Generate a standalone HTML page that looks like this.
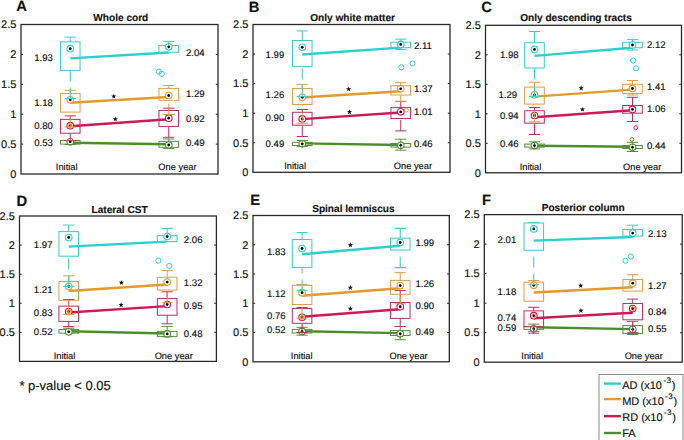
<!DOCTYPE html>
<html><head><meta charset="utf-8"><style>
html,body{margin:0;padding:0;background:#fff;width:684px;height:440px;overflow:hidden}
svg{display:block}
text{font-family:"Liberation Sans", sans-serif;fill:#111;stroke:#111;stroke-width:0.15px}
svg{text-rendering:geometricPrecision}
</style></head><body>
<svg width="684" height="440" viewBox="0 0 684 440">
<text x="16.36" y="11.00" font-size="14.8" font-weight="bold">A</text>
<text x="120.80" y="20.50" font-size="10.1" font-weight="bold" text-anchor="middle">Whole cord</text>
<text x="16.33" y="177.79" font-size="11" text-anchor="end">0</text>
<line x1="21" y1="144.10" x2="23.2" y2="144.10" stroke="#222" stroke-width="1"/>
<line x1="218" y1="144.10" x2="215.8" y2="144.10" stroke="#222" stroke-width="1"/>
<text x="16.33" y="147.89" font-size="11" text-anchor="end">0.5</text>
<line x1="21" y1="114.20" x2="23.2" y2="114.20" stroke="#222" stroke-width="1"/>
<line x1="218" y1="114.20" x2="215.8" y2="114.20" stroke="#222" stroke-width="1"/>
<text x="16.33" y="118.00" font-size="11" text-anchor="end">1</text>
<line x1="21" y1="84.30" x2="23.2" y2="84.30" stroke="#222" stroke-width="1"/>
<line x1="218" y1="84.30" x2="215.8" y2="84.30" stroke="#222" stroke-width="1"/>
<text x="16.33" y="88.10" font-size="11" text-anchor="end">1.5</text>
<line x1="21" y1="54.40" x2="23.2" y2="54.40" stroke="#222" stroke-width="1"/>
<line x1="218" y1="54.40" x2="215.8" y2="54.40" stroke="#222" stroke-width="1"/>
<text x="16.33" y="58.20" font-size="11" text-anchor="end">2</text>
<text x="16.33" y="28.30" font-size="11" text-anchor="end">2.5</text>
<text x="55.86" y="169.5" font-size="9.3">Initial</text>
<text x="158.34" y="169.5" font-size="9.3">One year</text>
<line x1="70.25" y1="58.4" x2="168.75" y2="52.5" stroke="#2ccfd0" stroke-width="2.4"/>
<line x1="70.25" y1="102.8" x2="168.75" y2="97.0" stroke="#e39a2a" stroke-width="2.4"/>
<line x1="70.25" y1="126.2" x2="168.75" y2="119.3" stroke="#cc1a58" stroke-width="2.4"/>
<line x1="70.25" y1="142.7" x2="168.75" y2="144.3" stroke="#4c8f2a" stroke-width="2.4"/>
<rect x="60.45" y="140.5" width="19.60" height="3.60" fill="none" stroke="#55923a" stroke-width="1"/>
<circle cx="70.25" cy="141.8" r="3.3" fill="#fff" stroke="#4c8f2a" stroke-width="1.1"/>
<circle cx="70.25" cy="141.8" r="1.4" fill="#000"/>
<line x1="70.25" y1="144.5" x2="70.25" y2="144.1" stroke="#55923a" stroke-width="1" stroke-dasharray="11,6"/>
<line x1="64.65" y1="144.5" x2="75.85" y2="144.5" stroke="#55923a" stroke-width="1"/>
<rect x="158.95" y="141.4" width="19.60" height="5.90" fill="none" stroke="#55923a" stroke-width="1"/>
<circle cx="168.75" cy="145.0" r="3.3" fill="#fff" stroke="#4c8f2a" stroke-width="1.1"/>
<circle cx="168.75" cy="145.0" r="1.4" fill="#000"/>
<line x1="168.75" y1="139.0" x2="168.75" y2="141.4" stroke="#55923a" stroke-width="1" stroke-dasharray="11,6"/>
<line x1="163.15" y1="139.0" x2="174.35" y2="139.0" stroke="#55923a" stroke-width="1"/>
<line x1="168.75" y1="148.6" x2="168.75" y2="147.3" stroke="#55923a" stroke-width="1" stroke-dasharray="11,6"/>
<line x1="163.15" y1="148.6" x2="174.35" y2="148.6" stroke="#55923a" stroke-width="1"/>
<rect x="60.45" y="119.4" width="19.60" height="13.80" fill="none" stroke="#c02c64" stroke-width="1"/>
<circle cx="70.25" cy="125.7" r="3.3" fill="#fff" stroke="#cc1a58" stroke-width="1.1"/>
<circle cx="70.25" cy="125.7" r="1.4" fill="#000"/>
<line x1="70.25" y1="115.9" x2="70.25" y2="119.4" stroke="#c02c64" stroke-width="1" stroke-dasharray="11,6"/>
<line x1="64.65" y1="115.9" x2="75.85" y2="115.9" stroke="#c02c64" stroke-width="1"/>
<line x1="70.25" y1="140.7" x2="70.25" y2="133.2" stroke="#c02c64" stroke-width="1" stroke-dasharray="11,6"/>
<line x1="64.65" y1="140.7" x2="75.85" y2="140.7" stroke="#c02c64" stroke-width="1"/>
<rect x="158.95" y="110.5" width="19.60" height="15.90" fill="none" stroke="#c02c64" stroke-width="1"/>
<circle cx="168.75" cy="118.2" r="3.3" fill="#fff" stroke="#cc1a58" stroke-width="1.1"/>
<circle cx="168.75" cy="118.2" r="1.4" fill="#000"/>
<line x1="168.75" y1="108.2" x2="168.75" y2="110.5" stroke="#c02c64" stroke-width="1" stroke-dasharray="11,6"/>
<line x1="163.15" y1="108.2" x2="174.35" y2="108.2" stroke="#c02c64" stroke-width="1"/>
<line x1="168.75" y1="137.3" x2="168.75" y2="126.4" stroke="#c02c64" stroke-width="1" stroke-dasharray="11,6"/>
<line x1="163.15" y1="137.3" x2="174.35" y2="137.3" stroke="#c02c64" stroke-width="1"/>
<rect x="60.45" y="93.5" width="19.60" height="18.60" fill="none" stroke="#dc9c48" stroke-width="1"/>
<circle cx="70.25" cy="99.8" r="3.3" fill="#fff" stroke="#e39a2a" stroke-width="1.1"/>
<circle cx="70.25" cy="99.8" r="1.4" fill="#000"/>
<line x1="70.25" y1="90.4" x2="70.25" y2="93.5" stroke="#dc9c48" stroke-width="1" stroke-dasharray="11,6"/>
<line x1="64.65" y1="90.4" x2="75.85" y2="90.4" stroke="#dc9c48" stroke-width="1"/>
<line x1="70.25" y1="127.0" x2="70.25" y2="112.1" stroke="#dc9c48" stroke-width="1" stroke-dasharray="11,6"/>
<line x1="64.65" y1="127.0" x2="75.85" y2="127.0" stroke="#dc9c48" stroke-width="1"/>
<rect x="158.95" y="88.4" width="19.60" height="11.90" fill="none" stroke="#dc9c48" stroke-width="1"/>
<circle cx="168.75" cy="95.5" r="3.3" fill="#fff" stroke="#e39a2a" stroke-width="1.1"/>
<circle cx="168.75" cy="95.5" r="1.4" fill="#000"/>
<line x1="168.75" y1="85.5" x2="168.75" y2="88.4" stroke="#dc9c48" stroke-width="1" stroke-dasharray="11,6"/>
<line x1="163.15" y1="85.5" x2="174.35" y2="85.5" stroke="#dc9c48" stroke-width="1"/>
<line x1="168.75" y1="114.5" x2="168.75" y2="100.3" stroke="#dc9c48" stroke-width="1" stroke-dasharray="11,6"/>
<line x1="163.15" y1="114.5" x2="174.35" y2="114.5" stroke="#dc9c48" stroke-width="1"/>
<rect x="60.45" y="41.9" width="19.60" height="28.50" fill="none" stroke="#3ccaca" stroke-width="1"/>
<circle cx="70.25" cy="48.7" r="3.3" fill="#fff" stroke="#2ccfd0" stroke-width="1.1"/>
<circle cx="70.25" cy="48.7" r="1.4" fill="#000"/>
<line x1="70.25" y1="37.1" x2="70.25" y2="41.9" stroke="#3ccaca" stroke-width="1" stroke-dasharray="11,6"/>
<line x1="64.65" y1="37.1" x2="75.85" y2="37.1" stroke="#3ccaca" stroke-width="1"/>
<line x1="70.25" y1="98.5" x2="70.25" y2="70.4" stroke="#3ccaca" stroke-width="1" stroke-dasharray="11,6"/>
<line x1="64.65" y1="98.5" x2="75.85" y2="98.5" stroke="#3ccaca" stroke-width="1"/>
<rect x="158.95" y="45.5" width="19.60" height="6.80" fill="none" stroke="#3ccaca" stroke-width="1"/>
<circle cx="168.75" cy="46.8" r="3.3" fill="#fff" stroke="#2ccfd0" stroke-width="1.1"/>
<circle cx="168.75" cy="46.8" r="1.4" fill="#000"/>
<line x1="168.75" y1="41.4" x2="168.75" y2="45.5" stroke="#3ccaca" stroke-width="1" stroke-dasharray="11,6"/>
<line x1="163.15" y1="41.4" x2="174.35" y2="41.4" stroke="#3ccaca" stroke-width="1"/>
<circle cx="158.9" cy="71.6" r="2.6" fill="none" stroke="#2ccfd0" stroke-width="1"/>
<circle cx="161.8" cy="73.8" r="2.6" fill="none" stroke="#2ccfd0" stroke-width="1"/>
<circle cx="70.25" cy="125.7" r="1.9" fill="none" stroke="#e39a2a" stroke-width="1"/>
<text x="52.89" y="61.21" font-size="9.6" text-anchor="end">1.93</text>
<text x="52.89" y="105.81" font-size="9.6" text-anchor="end">1.18</text>
<text x="52.89" y="128.81" font-size="9.6" text-anchor="end">0.80</text>
<text x="52.89" y="145.51" font-size="9.6" text-anchor="end">0.53</text>
<text x="186.00" y="55.61" font-size="9.6">2.04</text>
<text x="186.00" y="97.41" font-size="9.6">1.29</text>
<text x="186.00" y="121.51" font-size="9.6">0.92</text>
<text x="186.00" y="145.71" font-size="9.6">0.49</text>
<polygon points="113.80,93.70 114.48,95.47 116.37,95.57 114.89,96.76 115.39,98.58 113.80,97.55 112.21,98.58 112.71,96.76 111.23,95.57 113.12,95.47" fill="#111"/>
<polygon points="115.30,116.40 115.98,118.17 117.87,118.27 116.39,119.46 116.89,121.28 115.30,120.25 113.71,121.28 114.21,119.46 112.73,118.27 114.62,118.17" fill="#111"/>
<rect x="21" y="24.5" width="197.00" height="149.50" fill="none" stroke="#2a2a2a" stroke-width="1.3"/>
<text x="248.76" y="12.10" font-size="14.8" font-weight="bold">B</text>
<text x="352.60" y="20.70" font-size="10.1" font-weight="bold" text-anchor="middle">Only white matter</text>
<text x="248.33" y="176.09" font-size="11" text-anchor="end">0</text>
<line x1="253" y1="142.74" x2="255.2" y2="142.74" stroke="#222" stroke-width="1"/>
<line x1="450" y1="142.74" x2="447.8" y2="142.74" stroke="#222" stroke-width="1"/>
<text x="248.33" y="146.53" font-size="11" text-anchor="end">0.5</text>
<line x1="253" y1="113.18" x2="255.2" y2="113.18" stroke="#222" stroke-width="1"/>
<line x1="450" y1="113.18" x2="447.8" y2="113.18" stroke="#222" stroke-width="1"/>
<text x="248.33" y="116.98" font-size="11" text-anchor="end">1</text>
<line x1="253" y1="83.62" x2="255.2" y2="83.62" stroke="#222" stroke-width="1"/>
<line x1="450" y1="83.62" x2="447.8" y2="83.62" stroke="#222" stroke-width="1"/>
<text x="248.33" y="87.42" font-size="11" text-anchor="end">1.5</text>
<line x1="253" y1="54.06" x2="255.2" y2="54.06" stroke="#222" stroke-width="1"/>
<line x1="450" y1="54.06" x2="447.8" y2="54.06" stroke="#222" stroke-width="1"/>
<text x="248.33" y="57.86" font-size="11" text-anchor="end">2</text>
<text x="248.33" y="28.30" font-size="11" text-anchor="end">2.5</text>
<text x="284.26" y="168.6" font-size="9.3">Initial</text>
<text x="393.74" y="168.6" font-size="9.3">One year</text>
<line x1="302.25" y1="54.5" x2="400.75" y2="47.6" stroke="#2ccfd0" stroke-width="2.4"/>
<line x1="302.25" y1="97.5" x2="400.75" y2="91.3" stroke="#e39a2a" stroke-width="2.4"/>
<line x1="302.25" y1="119.1" x2="400.75" y2="112.5" stroke="#cc1a58" stroke-width="2.4"/>
<line x1="302.25" y1="143.4" x2="400.75" y2="145.0" stroke="#4c8f2a" stroke-width="2.4"/>
<rect x="292.45" y="142.3" width="19.60" height="3.20" fill="none" stroke="#55923a" stroke-width="1"/>
<circle cx="302.25" cy="143.8" r="3.3" fill="#fff" stroke="#4c8f2a" stroke-width="1.1"/>
<circle cx="302.25" cy="143.8" r="1.4" fill="#000"/>
<line x1="302.25" y1="140.5" x2="302.25" y2="142.3" stroke="#55923a" stroke-width="1" stroke-dasharray="11,6"/>
<line x1="296.65" y1="140.5" x2="307.85" y2="140.5" stroke="#55923a" stroke-width="1"/>
<line x1="302.25" y1="146.4" x2="302.25" y2="145.5" stroke="#55923a" stroke-width="1" stroke-dasharray="11,6"/>
<line x1="296.65" y1="146.4" x2="307.85" y2="146.4" stroke="#55923a" stroke-width="1"/>
<rect x="390.95" y="143.5" width="19.60" height="3.60" fill="none" stroke="#55923a" stroke-width="1"/>
<circle cx="400.75" cy="145.3" r="3.3" fill="#fff" stroke="#4c8f2a" stroke-width="1.1"/>
<circle cx="400.75" cy="145.3" r="1.4" fill="#000"/>
<line x1="400.75" y1="139.2" x2="400.75" y2="143.5" stroke="#55923a" stroke-width="1" stroke-dasharray="11,6"/>
<line x1="395.15" y1="139.2" x2="406.35" y2="139.2" stroke="#55923a" stroke-width="1"/>
<line x1="400.75" y1="150.2" x2="400.75" y2="147.1" stroke="#55923a" stroke-width="1" stroke-dasharray="11,6"/>
<line x1="395.15" y1="150.2" x2="406.35" y2="150.2" stroke="#55923a" stroke-width="1"/>
<rect x="292.45" y="112.3" width="19.60" height="12.90" fill="none" stroke="#c02c64" stroke-width="1"/>
<circle cx="302.25" cy="118.9" r="3.3" fill="#fff" stroke="#cc1a58" stroke-width="1.1"/>
<circle cx="302.25" cy="118.9" r="1.4" fill="#000"/>
<line x1="302.25" y1="109.5" x2="302.25" y2="112.3" stroke="#c02c64" stroke-width="1" stroke-dasharray="11,6"/>
<line x1="296.65" y1="109.5" x2="307.85" y2="109.5" stroke="#c02c64" stroke-width="1"/>
<line x1="302.25" y1="136.5" x2="302.25" y2="125.2" stroke="#c02c64" stroke-width="1" stroke-dasharray="11,6"/>
<line x1="296.65" y1="136.5" x2="307.85" y2="136.5" stroke="#c02c64" stroke-width="1"/>
<rect x="390.95" y="107.4" width="19.60" height="11.10" fill="none" stroke="#c02c64" stroke-width="1"/>
<circle cx="400.75" cy="111.8" r="3.3" fill="#fff" stroke="#cc1a58" stroke-width="1.1"/>
<circle cx="400.75" cy="111.8" r="1.4" fill="#000"/>
<line x1="400.75" y1="101.4" x2="400.75" y2="107.4" stroke="#c02c64" stroke-width="1" stroke-dasharray="11,6"/>
<line x1="395.15" y1="101.4" x2="406.35" y2="101.4" stroke="#c02c64" stroke-width="1"/>
<line x1="400.75" y1="130.9" x2="400.75" y2="118.5" stroke="#c02c64" stroke-width="1" stroke-dasharray="11,6"/>
<line x1="395.15" y1="130.9" x2="406.35" y2="130.9" stroke="#c02c64" stroke-width="1"/>
<rect x="292.45" y="88.6" width="19.60" height="15.90" fill="none" stroke="#dc9c48" stroke-width="1"/>
<circle cx="302.25" cy="97.3" r="3.3" fill="#fff" stroke="#e39a2a" stroke-width="1.1"/>
<circle cx="302.25" cy="97.3" r="1.4" fill="#000"/>
<line x1="302.25" y1="84.4" x2="302.25" y2="88.6" stroke="#dc9c48" stroke-width="1" stroke-dasharray="11,6"/>
<line x1="296.65" y1="84.4" x2="307.85" y2="84.4" stroke="#dc9c48" stroke-width="1"/>
<line x1="302.25" y1="123.2" x2="302.25" y2="104.5" stroke="#dc9c48" stroke-width="1" stroke-dasharray="11,6"/>
<line x1="296.65" y1="123.2" x2="307.85" y2="123.2" stroke="#dc9c48" stroke-width="1"/>
<rect x="390.95" y="85.7" width="19.60" height="9.30" fill="none" stroke="#dc9c48" stroke-width="1"/>
<circle cx="400.75" cy="88.8" r="3.3" fill="#fff" stroke="#e39a2a" stroke-width="1.1"/>
<circle cx="400.75" cy="88.8" r="1.4" fill="#000"/>
<line x1="400.75" y1="82.7" x2="400.75" y2="85.7" stroke="#dc9c48" stroke-width="1" stroke-dasharray="11,6"/>
<line x1="395.15" y1="82.7" x2="406.35" y2="82.7" stroke="#dc9c48" stroke-width="1"/>
<line x1="400.75" y1="101.4" x2="400.75" y2="95.0" stroke="#dc9c48" stroke-width="1" stroke-dasharray="11,6"/>
<line x1="395.15" y1="101.4" x2="406.35" y2="101.4" stroke="#dc9c48" stroke-width="1"/>
<rect x="292.45" y="40.5" width="19.60" height="25.90" fill="none" stroke="#3ccaca" stroke-width="1"/>
<circle cx="302.25" cy="47.3" r="3.3" fill="#fff" stroke="#2ccfd0" stroke-width="1.1"/>
<circle cx="302.25" cy="47.3" r="1.4" fill="#000"/>
<line x1="302.25" y1="30.9" x2="302.25" y2="40.5" stroke="#3ccaca" stroke-width="1" stroke-dasharray="11,6"/>
<line x1="296.65" y1="30.9" x2="307.85" y2="30.9" stroke="#3ccaca" stroke-width="1"/>
<line x1="302.25" y1="96.4" x2="302.25" y2="66.4" stroke="#3ccaca" stroke-width="1" stroke-dasharray="11,6"/>
<line x1="296.65" y1="96.4" x2="307.85" y2="96.4" stroke="#3ccaca" stroke-width="1"/>
<rect x="390.95" y="42.3" width="19.60" height="5.40" fill="none" stroke="#3ccaca" stroke-width="1"/>
<circle cx="400.75" cy="44.4" r="3.3" fill="#fff" stroke="#2ccfd0" stroke-width="1.1"/>
<circle cx="400.75" cy="44.4" r="1.4" fill="#000"/>
<line x1="400.75" y1="39.1" x2="400.75" y2="42.3" stroke="#3ccaca" stroke-width="1" stroke-dasharray="11,6"/>
<line x1="395.15" y1="39.1" x2="406.35" y2="39.1" stroke="#3ccaca" stroke-width="1"/>
<line x1="400.75" y1="49.5" x2="400.75" y2="47.7" stroke="#3ccaca" stroke-width="1" stroke-dasharray="11,6"/>
<line x1="395.15" y1="49.5" x2="406.35" y2="49.5" stroke="#3ccaca" stroke-width="1"/>
<circle cx="401.4" cy="67.3" r="2.6" fill="none" stroke="#2ccfd0" stroke-width="1"/>
<circle cx="412.5" cy="63.5" r="2.6" fill="none" stroke="#2ccfd0" stroke-width="1"/>
<circle cx="406.4" cy="110" r="1.9" fill="none" stroke="#e39a2a" stroke-width="1"/>
<text x="284.29" y="58.16" font-size="9.6" text-anchor="end">1.99</text>
<text x="284.29" y="97.81" font-size="9.6" text-anchor="end">1.26</text>
<text x="284.29" y="121.01" font-size="9.6" text-anchor="end">0.90</text>
<text x="284.29" y="146.61" font-size="9.6" text-anchor="end">0.49</text>
<text x="414.00" y="49.31" font-size="9.6">2.11</text>
<text x="414.00" y="91.51" font-size="9.6">1.37</text>
<text x="414.00" y="114.61" font-size="9.6">1.01</text>
<text x="414.00" y="147.21" font-size="9.6">0.46</text>
<polygon points="348.60,86.40 349.28,88.17 351.17,88.27 349.69,89.46 350.19,91.28 348.60,90.25 347.01,91.28 347.51,89.46 346.03,88.27 347.92,88.17" fill="#111"/>
<polygon points="349.50,109.30 350.18,111.07 352.07,111.17 350.59,112.36 351.09,114.18 349.50,113.15 347.91,114.18 348.41,112.36 346.93,111.17 348.82,111.07" fill="#111"/>
<rect x="253" y="24.5" width="197.00" height="147.80" fill="none" stroke="#2a2a2a" stroke-width="1.3"/>
<text x="481.16" y="11.90" font-size="14.8" font-weight="bold">C</text>
<text x="576.00" y="21.00" font-size="10.1" font-weight="bold" text-anchor="middle">Only descending tracts</text>
<text x="480.83" y="176.59" font-size="11" text-anchor="end">0</text>
<line x1="485.5" y1="143.30" x2="487.7" y2="143.30" stroke="#222" stroke-width="1"/>
<line x1="681.5" y1="143.30" x2="679.3" y2="143.30" stroke="#222" stroke-width="1"/>
<text x="480.83" y="147.09" font-size="11" text-anchor="end">0.5</text>
<line x1="485.5" y1="113.80" x2="487.7" y2="113.80" stroke="#222" stroke-width="1"/>
<line x1="681.5" y1="113.80" x2="679.3" y2="113.80" stroke="#222" stroke-width="1"/>
<text x="480.83" y="117.60" font-size="11" text-anchor="end">1</text>
<line x1="485.5" y1="84.30" x2="487.7" y2="84.30" stroke="#222" stroke-width="1"/>
<line x1="681.5" y1="84.30" x2="679.3" y2="84.30" stroke="#222" stroke-width="1"/>
<text x="480.83" y="88.10" font-size="11" text-anchor="end">1.5</text>
<line x1="485.5" y1="54.80" x2="487.7" y2="54.80" stroke="#222" stroke-width="1"/>
<line x1="681.5" y1="54.80" x2="679.3" y2="54.80" stroke="#222" stroke-width="1"/>
<text x="480.83" y="58.60" font-size="11" text-anchor="end">2</text>
<text x="480.83" y="29.10" font-size="11" text-anchor="end">2.5</text>
<text x="519.66" y="169.5" font-size="9.3">Initial</text>
<text x="623.03" y="169.5" font-size="9.3">One year</text>
<line x1="534.50" y1="55.9" x2="632.50" y2="47.7" stroke="#2ccfd0" stroke-width="2.4"/>
<line x1="534.50" y1="96.6" x2="632.50" y2="89.6" stroke="#e39a2a" stroke-width="2.4"/>
<line x1="534.50" y1="117.3" x2="632.50" y2="110.3" stroke="#cc1a58" stroke-width="2.4"/>
<line x1="534.50" y1="145.7" x2="632.50" y2="146.8" stroke="#4c8f2a" stroke-width="2.4"/>
<rect x="524.70" y="144.1" width="19.60" height="3.00" fill="none" stroke="#55923a" stroke-width="1"/>
<circle cx="534.50" cy="145.6" r="3.3" fill="#fff" stroke="#4c8f2a" stroke-width="1.1"/>
<circle cx="534.50" cy="145.6" r="1.4" fill="#000"/>
<line x1="534.50" y1="141.8" x2="534.50" y2="144.1" stroke="#55923a" stroke-width="1" stroke-dasharray="11,6"/>
<line x1="528.90" y1="141.8" x2="540.10" y2="141.8" stroke="#55923a" stroke-width="1"/>
<line x1="534.50" y1="148.9" x2="534.50" y2="147.1" stroke="#55923a" stroke-width="1" stroke-dasharray="11,6"/>
<line x1="528.90" y1="148.9" x2="540.10" y2="148.9" stroke="#55923a" stroke-width="1"/>
<rect x="622.70" y="145.5" width="19.60" height="3.00" fill="none" stroke="#55923a" stroke-width="1"/>
<circle cx="632.50" cy="147.3" r="3.3" fill="#fff" stroke="#4c8f2a" stroke-width="1.1"/>
<circle cx="632.50" cy="147.3" r="1.4" fill="#000"/>
<line x1="632.50" y1="142.3" x2="632.50" y2="145.5" stroke="#55923a" stroke-width="1" stroke-dasharray="11,6"/>
<line x1="626.90" y1="142.3" x2="638.10" y2="142.3" stroke="#55923a" stroke-width="1"/>
<line x1="632.50" y1="151.5" x2="632.50" y2="148.5" stroke="#55923a" stroke-width="1" stroke-dasharray="11,6"/>
<line x1="626.90" y1="151.5" x2="638.10" y2="151.5" stroke="#55923a" stroke-width="1"/>
<rect x="524.70" y="110.7" width="19.60" height="12.50" fill="none" stroke="#c02c64" stroke-width="1"/>
<circle cx="534.50" cy="115.5" r="3.3" fill="#fff" stroke="#cc1a58" stroke-width="1.1"/>
<circle cx="534.50" cy="115.5" r="1.4" fill="#000"/>
<line x1="534.50" y1="107.5" x2="534.50" y2="110.7" stroke="#c02c64" stroke-width="1" stroke-dasharray="11,6"/>
<line x1="528.90" y1="107.5" x2="540.10" y2="107.5" stroke="#c02c64" stroke-width="1"/>
<line x1="534.50" y1="134.5" x2="534.50" y2="123.2" stroke="#c02c64" stroke-width="1" stroke-dasharray="11,6"/>
<line x1="528.90" y1="134.5" x2="540.10" y2="134.5" stroke="#c02c64" stroke-width="1"/>
<rect x="622.70" y="105.5" width="19.60" height="7.70" fill="none" stroke="#c02c64" stroke-width="1"/>
<circle cx="632.50" cy="109.4" r="3.3" fill="#fff" stroke="#cc1a58" stroke-width="1.1"/>
<circle cx="632.50" cy="109.4" r="1.4" fill="#000"/>
<line x1="632.50" y1="97.3" x2="632.50" y2="105.5" stroke="#c02c64" stroke-width="1" stroke-dasharray="11,6"/>
<line x1="626.90" y1="97.3" x2="638.10" y2="97.3" stroke="#c02c64" stroke-width="1"/>
<line x1="632.50" y1="121.5" x2="632.50" y2="113.2" stroke="#c02c64" stroke-width="1" stroke-dasharray="11,6"/>
<line x1="626.90" y1="121.5" x2="638.10" y2="121.5" stroke="#c02c64" stroke-width="1"/>
<rect x="524.70" y="87.1" width="19.60" height="17.00" fill="none" stroke="#dc9c48" stroke-width="1"/>
<circle cx="534.50" cy="94.8" r="3.3" fill="#fff" stroke="#e39a2a" stroke-width="1.1"/>
<circle cx="534.50" cy="94.8" r="1.4" fill="#000"/>
<line x1="534.50" y1="82.3" x2="534.50" y2="87.1" stroke="#dc9c48" stroke-width="1" stroke-dasharray="11,6"/>
<line x1="528.90" y1="82.3" x2="540.10" y2="82.3" stroke="#dc9c48" stroke-width="1"/>
<line x1="534.50" y1="121.8" x2="534.50" y2="104.1" stroke="#dc9c48" stroke-width="1" stroke-dasharray="11,6"/>
<line x1="528.90" y1="121.8" x2="540.10" y2="121.8" stroke="#dc9c48" stroke-width="1"/>
<rect x="622.70" y="84.3" width="19.60" height="9.10" fill="none" stroke="#dc9c48" stroke-width="1"/>
<circle cx="632.50" cy="88.5" r="3.3" fill="#fff" stroke="#e39a2a" stroke-width="1.1"/>
<circle cx="632.50" cy="88.5" r="1.4" fill="#000"/>
<line x1="632.50" y1="80.5" x2="632.50" y2="84.3" stroke="#dc9c48" stroke-width="1" stroke-dasharray="11,6"/>
<line x1="626.90" y1="80.5" x2="638.10" y2="80.5" stroke="#dc9c48" stroke-width="1"/>
<line x1="632.50" y1="95.0" x2="632.50" y2="93.4" stroke="#dc9c48" stroke-width="1" stroke-dasharray="11,6"/>
<line x1="626.90" y1="95.0" x2="638.10" y2="95.0" stroke="#dc9c48" stroke-width="1"/>
<rect x="524.70" y="42.7" width="19.60" height="25.30" fill="none" stroke="#3ccaca" stroke-width="1"/>
<circle cx="534.50" cy="49.4" r="3.3" fill="#fff" stroke="#2ccfd0" stroke-width="1.1"/>
<circle cx="534.50" cy="49.4" r="1.4" fill="#000"/>
<line x1="534.50" y1="31.5" x2="534.50" y2="42.7" stroke="#3ccaca" stroke-width="1" stroke-dasharray="11,6"/>
<line x1="528.90" y1="31.5" x2="540.10" y2="31.5" stroke="#3ccaca" stroke-width="1"/>
<line x1="534.50" y1="96.4" x2="534.50" y2="68.0" stroke="#3ccaca" stroke-width="1" stroke-dasharray="11,6"/>
<line x1="528.90" y1="96.4" x2="540.10" y2="96.4" stroke="#3ccaca" stroke-width="1"/>
<rect x="622.70" y="42.3" width="19.60" height="5.40" fill="none" stroke="#3ccaca" stroke-width="1"/>
<circle cx="632.50" cy="45.0" r="3.3" fill="#fff" stroke="#2ccfd0" stroke-width="1.1"/>
<circle cx="632.50" cy="45.0" r="1.4" fill="#000"/>
<line x1="632.50" y1="39.4" x2="632.50" y2="42.3" stroke="#3ccaca" stroke-width="1" stroke-dasharray="11,6"/>
<line x1="626.90" y1="39.4" x2="638.10" y2="39.4" stroke="#3ccaca" stroke-width="1"/>
<line x1="632.50" y1="50.0" x2="632.50" y2="47.7" stroke="#3ccaca" stroke-width="1" stroke-dasharray="11,6"/>
<line x1="626.90" y1="50.0" x2="638.10" y2="50.0" stroke="#3ccaca" stroke-width="1"/>
<circle cx="633.1" cy="60.5" r="2.6" fill="none" stroke="#2ccfd0" stroke-width="1"/>
<circle cx="636.0" cy="68.2" r="2.6" fill="none" stroke="#2ccfd0" stroke-width="1"/>
<circle cx="635.8" cy="127.8" r="1.9" fill="none" stroke="#cc1a58" stroke-width="1"/>
<circle cx="632" cy="139.5" r="1.9" fill="none" stroke="#4c8f2a" stroke-width="1"/>
<text x="518.59" y="58.31" font-size="9.6" text-anchor="end">1.98</text>
<text x="517.09" y="97.91" font-size="9.6" text-anchor="end">1.29</text>
<text x="518.59" y="119.41" font-size="9.6" text-anchor="end">0.94</text>
<text x="518.59" y="147.31" font-size="9.6" text-anchor="end">0.46</text>
<text x="647.00" y="47.81" font-size="9.6">2.12</text>
<text x="647.00" y="90.31" font-size="9.6">1.41</text>
<text x="647.00" y="111.61" font-size="9.6">1.06</text>
<text x="647.00" y="148.81" font-size="9.6">0.44</text>
<polygon points="581.10,85.50 581.78,87.27 583.67,87.37 582.19,88.56 582.69,90.38 581.10,89.35 579.51,90.38 580.01,88.56 578.53,87.37 580.42,87.27" fill="#111"/>
<polygon points="582.50,106.70 583.18,108.47 585.07,108.57 583.59,109.76 584.09,111.58 582.50,110.55 580.91,111.58 581.41,109.76 579.93,108.57 581.82,108.47" fill="#111"/>
<rect x="485.5" y="25.3" width="196.00" height="147.50" fill="none" stroke="#2a2a2a" stroke-width="1.3"/>
<text x="16.46" y="206.00" font-size="14.8" font-weight="bold">D</text>
<text x="119.60" y="212.90" font-size="10.1" font-weight="bold" text-anchor="middle">Lateral CST</text>
<line x1="19.5" y1="332.32" x2="21.7" y2="332.32" stroke="#222" stroke-width="1"/>
<line x1="216.4" y1="332.32" x2="214.20000000000002" y2="332.32" stroke="#222" stroke-width="1"/>
<text x="14.83" y="336.12" font-size="11" text-anchor="end">0.5</text>
<line x1="19.5" y1="303.24" x2="21.7" y2="303.24" stroke="#222" stroke-width="1"/>
<line x1="216.4" y1="303.24" x2="214.20000000000002" y2="303.24" stroke="#222" stroke-width="1"/>
<text x="14.83" y="307.04" font-size="11" text-anchor="end">1</text>
<line x1="19.5" y1="274.16" x2="21.7" y2="274.16" stroke="#222" stroke-width="1"/>
<line x1="216.4" y1="274.16" x2="214.20000000000002" y2="274.16" stroke="#222" stroke-width="1"/>
<text x="14.83" y="277.95" font-size="11" text-anchor="end">1.5</text>
<line x1="19.5" y1="245.08" x2="21.7" y2="245.08" stroke="#222" stroke-width="1"/>
<line x1="216.4" y1="245.08" x2="214.20000000000002" y2="245.08" stroke="#222" stroke-width="1"/>
<text x="14.83" y="248.87" font-size="11" text-anchor="end">2</text>
<text x="14.83" y="219.79" font-size="11" text-anchor="end">2.5</text>
<text x="53.66" y="358.9" font-size="9.3">Initial</text>
<text x="154.63" y="358.9" font-size="9.3">One year</text>
<line x1="68.72" y1="246.6" x2="167.18" y2="241.6" stroke="#2ccfd0" stroke-width="2.4"/>
<line x1="68.72" y1="291.0" x2="167.18" y2="284.5" stroke="#e39a2a" stroke-width="2.4"/>
<line x1="68.72" y1="312.5" x2="167.18" y2="306.1" stroke="#cc1a58" stroke-width="2.4"/>
<line x1="68.72" y1="331.2" x2="167.18" y2="333.5" stroke="#4c8f2a" stroke-width="2.4"/>
<rect x="58.92" y="329.5" width="19.60" height="3.70" fill="none" stroke="#55923a" stroke-width="1"/>
<circle cx="68.72" cy="331.8" r="3.3" fill="#fff" stroke="#4c8f2a" stroke-width="1.1"/>
<circle cx="68.72" cy="331.8" r="1.4" fill="#000"/>
<line x1="68.72" y1="328.2" x2="68.72" y2="329.5" stroke="#55923a" stroke-width="1" stroke-dasharray="11,6"/>
<line x1="63.12" y1="328.2" x2="74.32" y2="328.2" stroke="#55923a" stroke-width="1"/>
<rect x="157.38" y="331.4" width="19.60" height="5.00" fill="none" stroke="#55923a" stroke-width="1"/>
<circle cx="167.18" cy="333.9" r="3.3" fill="#fff" stroke="#4c8f2a" stroke-width="1.1"/>
<circle cx="167.18" cy="333.9" r="1.4" fill="#000"/>
<line x1="167.18" y1="326.4" x2="167.18" y2="331.4" stroke="#55923a" stroke-width="1" stroke-dasharray="11,6"/>
<line x1="161.58" y1="326.4" x2="172.78" y2="326.4" stroke="#55923a" stroke-width="1"/>
<line x1="167.18" y1="336.8" x2="167.18" y2="336.4" stroke="#55923a" stroke-width="1" stroke-dasharray="11,6"/>
<line x1="161.58" y1="336.8" x2="172.78" y2="336.8" stroke="#55923a" stroke-width="1"/>
<rect x="58.92" y="306.1" width="19.60" height="15.30" fill="none" stroke="#c02c64" stroke-width="1"/>
<circle cx="68.72" cy="311.5" r="3.3" fill="#fff" stroke="#cc1a58" stroke-width="1.1"/>
<circle cx="68.72" cy="311.5" r="1.4" fill="#000"/>
<line x1="68.72" y1="299.5" x2="68.72" y2="306.1" stroke="#c02c64" stroke-width="1" stroke-dasharray="11,6"/>
<line x1="63.12" y1="299.5" x2="74.32" y2="299.5" stroke="#c02c64" stroke-width="1"/>
<line x1="68.72" y1="326.6" x2="68.72" y2="321.4" stroke="#c02c64" stroke-width="1" stroke-dasharray="11,6"/>
<line x1="63.12" y1="326.6" x2="74.32" y2="326.6" stroke="#c02c64" stroke-width="1"/>
<rect x="157.38" y="298.6" width="19.60" height="16.60" fill="none" stroke="#c02c64" stroke-width="1"/>
<circle cx="167.18" cy="304.5" r="3.3" fill="#fff" stroke="#cc1a58" stroke-width="1.1"/>
<circle cx="167.18" cy="304.5" r="1.4" fill="#000"/>
<line x1="167.18" y1="291.8" x2="167.18" y2="298.6" stroke="#c02c64" stroke-width="1" stroke-dasharray="11,6"/>
<line x1="161.58" y1="291.8" x2="172.78" y2="291.8" stroke="#c02c64" stroke-width="1"/>
<line x1="167.18" y1="323.8" x2="167.18" y2="315.2" stroke="#c02c64" stroke-width="1" stroke-dasharray="11,6"/>
<line x1="161.58" y1="323.8" x2="172.78" y2="323.8" stroke="#c02c64" stroke-width="1"/>
<rect x="58.92" y="281.5" width="19.60" height="18.80" fill="none" stroke="#dc9c48" stroke-width="1"/>
<circle cx="68.72" cy="286.4" r="3.3" fill="#fff" stroke="#e39a2a" stroke-width="1.1"/>
<circle cx="68.72" cy="286.4" r="1.4" fill="#000"/>
<line x1="68.72" y1="275.8" x2="68.72" y2="281.5" stroke="#dc9c48" stroke-width="1" stroke-dasharray="11,6"/>
<line x1="63.12" y1="275.8" x2="74.32" y2="275.8" stroke="#dc9c48" stroke-width="1"/>
<line x1="68.72" y1="314.5" x2="68.72" y2="300.3" stroke="#dc9c48" stroke-width="1" stroke-dasharray="11,6"/>
<line x1="63.12" y1="314.5" x2="74.32" y2="314.5" stroke="#dc9c48" stroke-width="1"/>
<rect x="157.38" y="277.3" width="19.60" height="12.70" fill="none" stroke="#dc9c48" stroke-width="1"/>
<circle cx="167.18" cy="282.1" r="3.3" fill="#fff" stroke="#e39a2a" stroke-width="1.1"/>
<circle cx="167.18" cy="282.1" r="1.4" fill="#000"/>
<line x1="167.18" y1="270.6" x2="167.18" y2="277.3" stroke="#dc9c48" stroke-width="1" stroke-dasharray="11,6"/>
<line x1="161.58" y1="270.6" x2="172.78" y2="270.6" stroke="#dc9c48" stroke-width="1"/>
<line x1="167.18" y1="302.7" x2="167.18" y2="290.0" stroke="#dc9c48" stroke-width="1" stroke-dasharray="11,6"/>
<line x1="161.58" y1="302.7" x2="172.78" y2="302.7" stroke="#dc9c48" stroke-width="1"/>
<rect x="58.92" y="231.6" width="19.60" height="24.60" fill="none" stroke="#3ccaca" stroke-width="1"/>
<circle cx="68.72" cy="237.5" r="3.3" fill="#fff" stroke="#2ccfd0" stroke-width="1.1"/>
<circle cx="68.72" cy="237.5" r="1.4" fill="#000"/>
<line x1="68.72" y1="225.1" x2="68.72" y2="231.6" stroke="#3ccaca" stroke-width="1" stroke-dasharray="11,6"/>
<line x1="63.12" y1="225.1" x2="74.32" y2="225.1" stroke="#3ccaca" stroke-width="1"/>
<line x1="68.72" y1="286.5" x2="68.72" y2="256.2" stroke="#3ccaca" stroke-width="1" stroke-dasharray="11,6"/>
<line x1="63.12" y1="286.5" x2="74.32" y2="286.5" stroke="#3ccaca" stroke-width="1"/>
<rect x="157.38" y="235.6" width="19.60" height="5.90" fill="none" stroke="#3ccaca" stroke-width="1"/>
<circle cx="167.18" cy="236.5" r="3.3" fill="#fff" stroke="#2ccfd0" stroke-width="1.1"/>
<circle cx="167.18" cy="236.5" r="1.4" fill="#000"/>
<line x1="167.18" y1="228.4" x2="167.18" y2="235.6" stroke="#3ccaca" stroke-width="1" stroke-dasharray="11,6"/>
<line x1="161.58" y1="228.4" x2="172.78" y2="228.4" stroke="#3ccaca" stroke-width="1"/>
<circle cx="158.4" cy="260.6" r="2.6" fill="none" stroke="#2ccfd0" stroke-width="1"/>
<circle cx="169.3" cy="265.9" r="2.6" fill="none" stroke="#2ccfd0" stroke-width="1"/>
<circle cx="68.7" cy="311.5" r="1.9" fill="none" stroke="#e39a2a" stroke-width="1"/>
<text x="52.49" y="248.31" font-size="9.6" text-anchor="end">1.97</text>
<text x="52.49" y="292.81" font-size="9.6" text-anchor="end">1.21</text>
<text x="52.49" y="316.06" font-size="9.6" text-anchor="end">0.83</text>
<text x="52.49" y="335.41" font-size="9.6" text-anchor="end">0.52</text>
<text x="183.80" y="243.31" font-size="9.6">2.06</text>
<text x="183.80" y="285.91" font-size="9.6">1.32</text>
<text x="183.80" y="309.11" font-size="9.6">0.95</text>
<text x="183.80" y="336.51" font-size="9.6">0.48</text>
<polygon points="121.40,280.00 122.08,281.77 123.97,281.87 122.49,283.06 122.99,284.88 121.40,283.85 119.81,284.88 120.31,283.06 118.83,281.87 120.72,281.77" fill="#111"/>
<polygon points="121.10,302.30 121.78,304.07 123.67,304.17 122.19,305.36 122.69,307.18 121.10,306.15 119.51,307.18 120.01,305.36 118.53,304.17 120.42,304.07" fill="#111"/>
<rect x="19.5" y="216" width="196.90" height="145.40" fill="none" stroke="#2a2a2a" stroke-width="1.3"/>
<text x="250.36" y="205.40" font-size="14.8" font-weight="bold">E</text>
<text x="353.40" y="212.20" font-size="10.1" font-weight="bold" text-anchor="middle">Spinal lemniscus</text>
<text x="248.33" y="365.60" font-size="11" text-anchor="end">0</text>
<line x1="253" y1="332.54" x2="255.2" y2="332.54" stroke="#222" stroke-width="1"/>
<line x1="449.3" y1="332.54" x2="447.1" y2="332.54" stroke="#222" stroke-width="1"/>
<text x="248.33" y="336.34" font-size="11" text-anchor="end">0.5</text>
<line x1="253" y1="303.28" x2="255.2" y2="303.28" stroke="#222" stroke-width="1"/>
<line x1="449.3" y1="303.28" x2="447.1" y2="303.28" stroke="#222" stroke-width="1"/>
<text x="248.33" y="307.08" font-size="11" text-anchor="end">1</text>
<line x1="253" y1="274.02" x2="255.2" y2="274.02" stroke="#222" stroke-width="1"/>
<line x1="449.3" y1="274.02" x2="447.1" y2="274.02" stroke="#222" stroke-width="1"/>
<text x="248.33" y="277.81" font-size="11" text-anchor="end">1.5</text>
<line x1="253" y1="244.76" x2="255.2" y2="244.76" stroke="#222" stroke-width="1"/>
<line x1="449.3" y1="244.76" x2="447.1" y2="244.76" stroke="#222" stroke-width="1"/>
<text x="248.33" y="248.55" font-size="11" text-anchor="end">2</text>
<text x="248.33" y="219.29" font-size="11" text-anchor="end">2.5</text>
<text x="290.86" y="358.9" font-size="9.3">Initial</text>
<text x="389.44" y="358.9" font-size="9.3">One year</text>
<line x1="302.07" y1="254.3" x2="400.23" y2="245.8" stroke="#2ccfd0" stroke-width="2.4"/>
<line x1="302.07" y1="295.8" x2="400.23" y2="288.2" stroke="#e39a2a" stroke-width="2.4"/>
<line x1="302.07" y1="316.8" x2="400.23" y2="309.2" stroke="#cc1a58" stroke-width="2.4"/>
<line x1="302.07" y1="331.3" x2="400.23" y2="333.1" stroke="#4c8f2a" stroke-width="2.4"/>
<rect x="292.27" y="329.4" width="19.60" height="3.60" fill="none" stroke="#55923a" stroke-width="1"/>
<circle cx="302.07" cy="331.4" r="3.3" fill="#fff" stroke="#4c8f2a" stroke-width="1.1"/>
<circle cx="302.07" cy="331.4" r="1.4" fill="#000"/>
<line x1="302.07" y1="327.3" x2="302.07" y2="329.4" stroke="#55923a" stroke-width="1" stroke-dasharray="11,6"/>
<line x1="296.47" y1="327.3" x2="307.68" y2="327.3" stroke="#55923a" stroke-width="1"/>
<line x1="302.07" y1="335.2" x2="302.07" y2="333.0" stroke="#55923a" stroke-width="1" stroke-dasharray="11,6"/>
<line x1="296.47" y1="335.2" x2="307.68" y2="335.2" stroke="#55923a" stroke-width="1"/>
<rect x="390.43" y="330.6" width="19.60" height="4.90" fill="none" stroke="#55923a" stroke-width="1"/>
<circle cx="400.23" cy="333.8" r="3.3" fill="#fff" stroke="#4c8f2a" stroke-width="1.1"/>
<circle cx="400.23" cy="333.8" r="1.4" fill="#000"/>
<line x1="400.23" y1="326.5" x2="400.23" y2="330.6" stroke="#55923a" stroke-width="1" stroke-dasharray="11,6"/>
<line x1="394.62" y1="326.5" x2="405.83" y2="326.5" stroke="#55923a" stroke-width="1"/>
<line x1="400.23" y1="339.7" x2="400.23" y2="335.5" stroke="#55923a" stroke-width="1" stroke-dasharray="11,6"/>
<line x1="394.62" y1="339.7" x2="405.83" y2="339.7" stroke="#55923a" stroke-width="1"/>
<rect x="292.27" y="308.6" width="19.60" height="14.70" fill="none" stroke="#c02c64" stroke-width="1"/>
<circle cx="302.07" cy="317.3" r="3.3" fill="#fff" stroke="#cc1a58" stroke-width="1.1"/>
<circle cx="302.07" cy="317.3" r="1.4" fill="#000"/>
<line x1="302.07" y1="307.5" x2="302.07" y2="308.6" stroke="#c02c64" stroke-width="1" stroke-dasharray="11,6"/>
<line x1="296.47" y1="307.5" x2="307.68" y2="307.5" stroke="#c02c64" stroke-width="1"/>
<line x1="302.07" y1="332.5" x2="302.07" y2="323.3" stroke="#c02c64" stroke-width="1" stroke-dasharray="11,6"/>
<line x1="296.47" y1="332.5" x2="307.68" y2="332.5" stroke="#c02c64" stroke-width="1"/>
<rect x="390.43" y="302.5" width="19.60" height="15.90" fill="none" stroke="#c02c64" stroke-width="1"/>
<circle cx="400.23" cy="306.7" r="3.3" fill="#fff" stroke="#cc1a58" stroke-width="1.1"/>
<circle cx="400.23" cy="306.7" r="1.4" fill="#000"/>
<line x1="400.23" y1="290.6" x2="400.23" y2="302.5" stroke="#c02c64" stroke-width="1" stroke-dasharray="11,6"/>
<line x1="394.62" y1="290.6" x2="405.83" y2="290.6" stroke="#c02c64" stroke-width="1"/>
<line x1="400.23" y1="326.5" x2="400.23" y2="318.4" stroke="#c02c64" stroke-width="1" stroke-dasharray="11,6"/>
<line x1="394.62" y1="326.5" x2="405.83" y2="326.5" stroke="#c02c64" stroke-width="1"/>
<rect x="292.27" y="285.3" width="19.60" height="19.20" fill="none" stroke="#dc9c48" stroke-width="1"/>
<circle cx="302.07" cy="292.7" r="3.3" fill="#fff" stroke="#e39a2a" stroke-width="1.1"/>
<circle cx="302.07" cy="292.7" r="1.4" fill="#000"/>
<line x1="302.07" y1="284.5" x2="302.07" y2="285.3" stroke="#dc9c48" stroke-width="1" stroke-dasharray="11,6"/>
<line x1="296.47" y1="284.5" x2="307.68" y2="284.5" stroke="#dc9c48" stroke-width="1"/>
<line x1="302.07" y1="318.2" x2="302.07" y2="304.5" stroke="#dc9c48" stroke-width="1" stroke-dasharray="11,6"/>
<line x1="296.47" y1="318.2" x2="307.68" y2="318.2" stroke="#dc9c48" stroke-width="1"/>
<rect x="390.43" y="280.4" width="19.60" height="13.90" fill="none" stroke="#dc9c48" stroke-width="1"/>
<circle cx="400.23" cy="285.6" r="3.3" fill="#fff" stroke="#e39a2a" stroke-width="1.1"/>
<circle cx="400.23" cy="285.6" r="1.4" fill="#000"/>
<line x1="400.23" y1="272.7" x2="400.23" y2="280.4" stroke="#dc9c48" stroke-width="1" stroke-dasharray="11,6"/>
<line x1="394.62" y1="272.7" x2="405.83" y2="272.7" stroke="#dc9c48" stroke-width="1"/>
<line x1="400.23" y1="303.8" x2="400.23" y2="294.3" stroke="#dc9c48" stroke-width="1" stroke-dasharray="11,6"/>
<line x1="394.62" y1="303.8" x2="405.83" y2="303.8" stroke="#dc9c48" stroke-width="1"/>
<rect x="292.27" y="239.5" width="19.60" height="28.00" fill="none" stroke="#3ccaca" stroke-width="1"/>
<circle cx="302.07" cy="248.5" r="3.3" fill="#fff" stroke="#2ccfd0" stroke-width="1.1"/>
<circle cx="302.07" cy="248.5" r="1.4" fill="#000"/>
<line x1="302.07" y1="232.5" x2="302.07" y2="239.5" stroke="#3ccaca" stroke-width="1" stroke-dasharray="11,6"/>
<line x1="296.47" y1="232.5" x2="307.68" y2="232.5" stroke="#3ccaca" stroke-width="1"/>
<line x1="302.07" y1="290.3" x2="302.07" y2="267.5" stroke="#3ccaca" stroke-width="1" stroke-dasharray="11,6"/>
<line x1="296.47" y1="290.3" x2="307.68" y2="290.3" stroke="#3ccaca" stroke-width="1"/>
<rect x="390.43" y="238.2" width="19.60" height="11.80" fill="none" stroke="#3ccaca" stroke-width="1"/>
<circle cx="400.23" cy="242.5" r="3.3" fill="#fff" stroke="#2ccfd0" stroke-width="1.1"/>
<circle cx="400.23" cy="242.5" r="1.4" fill="#000"/>
<line x1="400.23" y1="228.5" x2="400.23" y2="238.2" stroke="#3ccaca" stroke-width="1" stroke-dasharray="11,6"/>
<line x1="394.62" y1="228.5" x2="405.83" y2="228.5" stroke="#3ccaca" stroke-width="1"/>
<line x1="400.23" y1="267.5" x2="400.23" y2="250.0" stroke="#3ccaca" stroke-width="1" stroke-dasharray="11,6"/>
<line x1="394.62" y1="267.5" x2="405.83" y2="267.5" stroke="#3ccaca" stroke-width="1"/>
<circle cx="302.1" cy="317.3" r="1.9" fill="none" stroke="#e39a2a" stroke-width="1"/>
<text x="285.59" y="254.81" font-size="9.6" text-anchor="end">1.83</text>
<text x="285.59" y="296.56" font-size="9.6" text-anchor="end">1.12</text>
<text x="285.59" y="318.71" font-size="9.6" text-anchor="end">0.76</text>
<text x="285.59" y="333.01" font-size="9.6" text-anchor="end">0.52</text>
<text x="415.50" y="245.81" font-size="9.6">1.99</text>
<text x="415.50" y="287.31" font-size="9.6">1.26</text>
<text x="415.50" y="309.06" font-size="9.6">0.90</text>
<text x="415.50" y="335.31" font-size="9.6">0.49</text>
<polygon points="350.40,242.30 351.08,244.07 352.97,244.17 351.49,245.36 351.99,247.18 350.40,246.15 348.81,247.18 349.31,245.36 347.83,244.17 349.72,244.07" fill="#111"/>
<polygon points="350.40,285.00 351.08,286.77 352.97,286.87 351.49,288.06 351.99,289.88 350.40,288.85 348.81,289.88 349.31,288.06 347.83,286.87 349.72,286.77" fill="#111"/>
<polygon points="350.40,305.90 351.08,307.67 352.97,307.77 351.49,308.96 351.99,310.78 350.40,309.75 348.81,310.78 349.31,308.96 347.83,307.77 349.72,307.67" fill="#111"/>
<rect x="253" y="215.5" width="196.30" height="146.30" fill="none" stroke="#2a2a2a" stroke-width="1.3"/>
<text x="482.06" y="205.40" font-size="14.8" font-weight="bold">F</text>
<text x="583.20" y="211.10" font-size="10.1" font-weight="bold" text-anchor="middle">Posterior column</text>
<text x="479.63" y="366.00" font-size="11" text-anchor="end">0</text>
<line x1="484.3" y1="332.68" x2="486.5" y2="332.68" stroke="#222" stroke-width="1"/>
<line x1="682.2" y1="332.68" x2="680.0" y2="332.68" stroke="#222" stroke-width="1"/>
<text x="479.63" y="336.48" font-size="11" text-anchor="end">0.5</text>
<line x1="484.3" y1="303.16" x2="486.5" y2="303.16" stroke="#222" stroke-width="1"/>
<line x1="682.2" y1="303.16" x2="680.0" y2="303.16" stroke="#222" stroke-width="1"/>
<text x="479.63" y="306.95" font-size="11" text-anchor="end">1</text>
<line x1="484.3" y1="273.64" x2="486.5" y2="273.64" stroke="#222" stroke-width="1"/>
<line x1="682.2" y1="273.64" x2="680.0" y2="273.64" stroke="#222" stroke-width="1"/>
<text x="479.63" y="277.44" font-size="11" text-anchor="end">1.5</text>
<line x1="484.3" y1="244.12" x2="486.5" y2="244.12" stroke="#222" stroke-width="1"/>
<line x1="682.2" y1="244.12" x2="680.0" y2="244.12" stroke="#222" stroke-width="1"/>
<text x="479.63" y="247.91" font-size="11" text-anchor="end">2</text>
<text x="479.63" y="218.39" font-size="11" text-anchor="end">2.5</text>
<text x="521.36" y="359.0" font-size="9.3">Initial</text>
<text x="624.63" y="359.0" font-size="9.3">One year</text>
<line x1="533.77" y1="240.6" x2="632.73" y2="237.0" stroke="#2ccfd0" stroke-width="2.4"/>
<line x1="533.77" y1="292.5" x2="632.73" y2="287.3" stroke="#e39a2a" stroke-width="2.4"/>
<line x1="533.77" y1="318.2" x2="632.73" y2="312.7" stroke="#cc1a58" stroke-width="2.4"/>
<line x1="533.77" y1="327.3" x2="632.73" y2="329.1" stroke="#4c8f2a" stroke-width="2.4"/>
<rect x="523.98" y="326.4" width="19.60" height="3.00" fill="none" stroke="#55923a" stroke-width="1"/>
<circle cx="533.77" cy="328.8" r="3.3" fill="#fff" stroke="#4c8f2a" stroke-width="1.1"/>
<circle cx="533.77" cy="328.8" r="1.4" fill="#000"/>
<line x1="533.77" y1="324.1" x2="533.77" y2="326.4" stroke="#55923a" stroke-width="1" stroke-dasharray="11,6"/>
<line x1="528.17" y1="324.1" x2="539.38" y2="324.1" stroke="#55923a" stroke-width="1"/>
<line x1="533.77" y1="331.4" x2="533.77" y2="329.4" stroke="#55923a" stroke-width="1" stroke-dasharray="11,6"/>
<line x1="528.17" y1="331.4" x2="539.38" y2="331.4" stroke="#55923a" stroke-width="1"/>
<rect x="622.93" y="325.6" width="19.60" height="7.90" fill="none" stroke="#55923a" stroke-width="1"/>
<circle cx="632.73" cy="329.3" r="3.3" fill="#fff" stroke="#4c8f2a" stroke-width="1.1"/>
<circle cx="632.73" cy="329.3" r="1.4" fill="#000"/>
<line x1="632.73" y1="321.4" x2="632.73" y2="325.6" stroke="#55923a" stroke-width="1" stroke-dasharray="11,6"/>
<line x1="627.12" y1="321.4" x2="638.33" y2="321.4" stroke="#55923a" stroke-width="1"/>
<line x1="632.73" y1="334.5" x2="632.73" y2="333.5" stroke="#55923a" stroke-width="1" stroke-dasharray="11,6"/>
<line x1="627.12" y1="334.5" x2="638.33" y2="334.5" stroke="#55923a" stroke-width="1"/>
<rect x="523.98" y="310.9" width="19.60" height="15.90" fill="none" stroke="#c02c64" stroke-width="1"/>
<circle cx="533.77" cy="315.7" r="3.3" fill="#fff" stroke="#cc1a58" stroke-width="1.1"/>
<circle cx="533.77" cy="315.7" r="1.4" fill="#000"/>
<line x1="533.77" y1="307.3" x2="533.77" y2="310.9" stroke="#c02c64" stroke-width="1" stroke-dasharray="11,6"/>
<line x1="528.17" y1="307.3" x2="539.38" y2="307.3" stroke="#c02c64" stroke-width="1"/>
<line x1="533.77" y1="333.2" x2="533.77" y2="326.8" stroke="#c02c64" stroke-width="1" stroke-dasharray="11,6"/>
<line x1="528.17" y1="333.2" x2="539.38" y2="333.2" stroke="#c02c64" stroke-width="1"/>
<rect x="622.93" y="303.5" width="19.60" height="16.30" fill="none" stroke="#c02c64" stroke-width="1"/>
<circle cx="632.73" cy="308.6" r="3.3" fill="#fff" stroke="#cc1a58" stroke-width="1.1"/>
<circle cx="632.73" cy="308.6" r="1.4" fill="#000"/>
<line x1="632.73" y1="299.1" x2="632.73" y2="303.5" stroke="#c02c64" stroke-width="1" stroke-dasharray="11,6"/>
<line x1="627.12" y1="299.1" x2="638.33" y2="299.1" stroke="#c02c64" stroke-width="1"/>
<line x1="632.73" y1="332.7" x2="632.73" y2="319.8" stroke="#c02c64" stroke-width="1" stroke-dasharray="11,6"/>
<line x1="627.12" y1="332.7" x2="638.33" y2="332.7" stroke="#c02c64" stroke-width="1"/>
<rect x="523.98" y="282.2" width="19.60" height="19.00" fill="none" stroke="#dc9c48" stroke-width="1"/>
<circle cx="533.77" cy="285.3" r="3.3" fill="#fff" stroke="#e39a2a" stroke-width="1.1"/>
<circle cx="533.77" cy="285.3" r="1.4" fill="#000"/>
<line x1="533.77" y1="280.5" x2="533.77" y2="282.2" stroke="#dc9c48" stroke-width="1" stroke-dasharray="11,6"/>
<line x1="528.17" y1="280.5" x2="539.38" y2="280.5" stroke="#dc9c48" stroke-width="1"/>
<rect x="622.93" y="279.5" width="19.60" height="11.60" fill="none" stroke="#dc9c48" stroke-width="1"/>
<circle cx="632.73" cy="283.2" r="3.3" fill="#fff" stroke="#e39a2a" stroke-width="1.1"/>
<circle cx="632.73" cy="283.2" r="1.4" fill="#000"/>
<line x1="632.73" y1="274.7" x2="632.73" y2="279.5" stroke="#dc9c48" stroke-width="1" stroke-dasharray="11,6"/>
<line x1="627.12" y1="274.7" x2="638.33" y2="274.7" stroke="#dc9c48" stroke-width="1"/>
<rect x="523.98" y="223.0" width="19.60" height="27.30" fill="none" stroke="#3ccaca" stroke-width="1"/>
<circle cx="533.77" cy="228.9" r="3.3" fill="#fff" stroke="#2ccfd0" stroke-width="1.1"/>
<circle cx="533.77" cy="228.9" r="1.4" fill="#000"/>
<line x1="533.77" y1="222.4" x2="533.77" y2="223.0" stroke="#3ccaca" stroke-width="1" stroke-dasharray="11,6"/>
<line x1="528.17" y1="222.4" x2="539.38" y2="222.4" stroke="#3ccaca" stroke-width="1"/>
<line x1="533.77" y1="284.7" x2="533.77" y2="250.3" stroke="#3ccaca" stroke-width="1" stroke-dasharray="11,6"/>
<line x1="528.17" y1="284.7" x2="539.38" y2="284.7" stroke="#3ccaca" stroke-width="1"/>
<rect x="622.93" y="229.5" width="19.60" height="6.60" fill="none" stroke="#3ccaca" stroke-width="1"/>
<circle cx="632.73" cy="233.1" r="3.3" fill="#fff" stroke="#2ccfd0" stroke-width="1.1"/>
<circle cx="632.73" cy="233.1" r="1.4" fill="#000"/>
<line x1="632.73" y1="225.2" x2="632.73" y2="229.5" stroke="#3ccaca" stroke-width="1" stroke-dasharray="11,6"/>
<line x1="627.12" y1="225.2" x2="638.33" y2="225.2" stroke="#3ccaca" stroke-width="1"/>
<circle cx="625.5" cy="260.7" r="2.6" fill="none" stroke="#2ccfd0" stroke-width="1"/>
<circle cx="630.9" cy="256.5" r="2.6" fill="none" stroke="#2ccfd0" stroke-width="1"/>
<circle cx="533.8" cy="315.7" r="1.9" fill="none" stroke="#e39a2a" stroke-width="1"/>
<circle cx="632.7" cy="308.6" r="1.9" fill="none" stroke="#e39a2a" stroke-width="1"/>
<text x="516.29" y="242.81" font-size="9.6" text-anchor="end">2.01</text>
<text x="516.29" y="295.01" font-size="9.6" text-anchor="end">1.18</text>
<text x="516.29" y="321.11" font-size="9.6" text-anchor="end">0.74</text>
<text x="516.29" y="330.81" font-size="9.6" text-anchor="end">0.59</text>
<text x="648.00" y="237.31" font-size="9.6">2.13</text>
<text x="648.00" y="288.71" font-size="9.6">1.27</text>
<text x="648.00" y="315.01" font-size="9.6">0.84</text>
<text x="648.00" y="332.01" font-size="9.6">0.55</text>
<polygon points="580.70,282.90 581.38,284.67 583.27,284.77 581.79,285.96 582.29,287.78 580.70,286.75 579.11,287.78 579.61,285.96 578.13,284.77 580.02,284.67" fill="#111"/>
<polygon points="580.90,308.00 581.58,309.77 583.47,309.87 581.99,311.06 582.49,312.88 580.90,311.85 579.31,312.88 579.81,311.06 578.33,309.87 580.22,309.77" fill="#111"/>
<rect x="484.3" y="214.6" width="197.90" height="147.60" fill="none" stroke="#2a2a2a" stroke-width="1.3"/>
<text x="19.4" y="390.4" font-size="13">* p-value &lt; 0.05</text>
<rect x="599" y="374.5" width="84" height="66" fill="#fff" stroke="#8a8a8a" stroke-width="1"/>
<line x1="604" y1="383.6" x2="620.9" y2="383.6" stroke="#2ccfd0" stroke-width="2.4"/>
<text x="622.2" y="388.6" font-size="11">AD (x10<tspan font-size="8.2" dy="-5.6" dx="1.2">-</tspan><tspan font-size="8.2" dx="0.5">3</tspan><tspan dy="5.6" dx="0.8">)</tspan></text>
<line x1="604" y1="399.1" x2="620.9" y2="399.1" stroke="#e39a2a" stroke-width="2.4"/>
<text x="622.2" y="404.5" font-size="11">MD (x10<tspan font-size="8.2" dy="-5.6" dx="1.2">-</tspan><tspan font-size="8.2" dx="0.5">3</tspan><tspan dy="5.6" dx="0.8">)</tspan></text>
<line x1="604" y1="416.2" x2="620.9" y2="416.2" stroke="#cc1a58" stroke-width="2.4"/>
<text x="622.2" y="420.9" font-size="11">RD (x10<tspan font-size="8.2" dy="-5.6" dx="1.2">-</tspan><tspan font-size="8.2" dx="0.5">3</tspan><tspan dy="5.6" dx="0.8">)</tspan></text>
<line x1="604" y1="433.0" x2="620.9" y2="433.0" stroke="#4c8f2a" stroke-width="2.4"/>
<text x="622.2" y="436.7" font-size="11">FA</text>
</svg></body></html>
